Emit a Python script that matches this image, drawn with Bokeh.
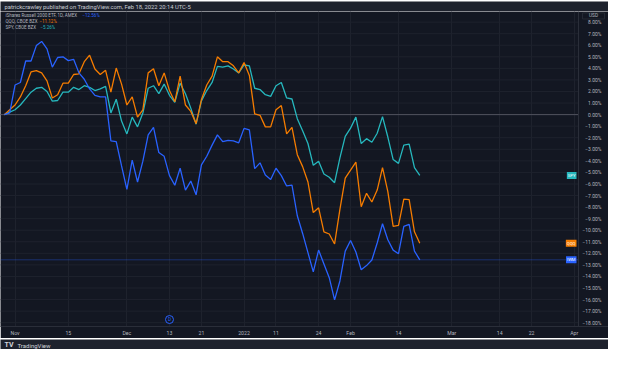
import pandas as pd
from bokeh.plotting import figure
from bokeh.models import FixedTicker, Label, ColumnDataSource
from bokeh.core.properties import value
from bokeh.layouts import column
from bokeh.embed import file_html
from bokeh.resources import INLINE

# ---------------- data ----------------
start_date = "2021-10-28"
end_date = "2022-04-01"
market_holidays = ["2021-11-25", "2021-12-24", "2022-01-17", "2022-02-21"]

iwm = [0.00, 0.14, 2.56, 2.78, 4.64, 4.64, 5.97, 6.33, 5.69, 4.11,
       4.94, 5.00, 4.67, 4.78, 3.61, 3.06, 2.22, 1.67, 1.53, 1.53,
       -2.28, -2.33, -4.44, -6.47, -3.94, -5.83, -4.03, -1.75, -1.11, -3.28,
       -3.61, -5.28, -6.11, -4.64, -6.53, -5.75, -6.94, -4.35, -3.60, -2.64,
       -1.75, -2.33, -2.22, -2.28, -2.44, -1.19, -1.33, -4.67, -4.17, -5.22,
       -5.61, -4.64, -5.28, -6.17, -6.10, -8.75, -10.28, -11.94, -13.61, -11.72,
       -12.92, -14.11, -16.03, -14.39, -11.81, -10.89, -11.89, -13.42, -13.06, -12.58,
       -11.11, -9.44, -10.83, -11.72, -12.03, -9.67, -9.50, -11.81, -12.56]

qqq = [0.00, 0.42, 0.83, 1.53, 2.50, 3.69, 3.81, 3.61, 2.92, 1.44,
       1.72, 2.72, 2.72, 3.47, 3.53, 4.58, 5.14, 3.94, 3.47, 3.83,
       1.94, 4.03, 2.64, 0.83, 1.53, -0.22, 0.42, 3.61, 3.97, 2.50,
       3.61, 2.08, 1.11, 3.33, 0.83, 0.28, -0.78, 1.30, 2.56, 3.33,
       5.00, 4.58, 4.58, 4.22, 3.61, 4.50, 3.39, 0.06, -0.06, -1.06,
       -1.06, 0.42, 0.78, -1.67, -1.11, -3.47, -4.50, -5.83, -8.47, -8.06,
       -10.14, -10.33, -11.19, -8.19, -5.50, -4.81, -4.11, -7.97, -6.81, -7.56,
       -6.53, -4.58, -6.67, -9.67, -9.58, -7.31, -7.36, -10.14, -11.12]

spy = [0.00, 0.22, 0.42, 0.83, 1.39, 1.94, 2.28, 2.36, 2.00, 1.17,
       1.22, 1.94, 1.94, 2.36, 2.17, 2.50, 2.36, 2.08, 2.22, 2.44,
       0.14, 1.33, -0.56, -1.67, -0.22, -1.06, 0.14, 2.28, 2.50, 1.81,
       2.64, 1.67, 1.06, 2.72, 1.81, 0.56, -0.83, 1.18, 2.08, 2.78,
       4.17, 4.11, 4.22, 3.94, 3.61, 4.31, 4.22, 2.28, 2.17, 1.72,
       1.58, 2.50, 2.78, 1.44, 1.35, -0.35, -1.39, -2.50, -4.39, -4.03,
       -5.14, -5.42, -5.89, -3.75, -1.89, -1.17, -0.22, -2.50, -2.08, -2.39,
       -1.61, -0.17, -1.94, -3.89, -4.22, -2.64, -2.56, -4.58, -5.26]

series_names = ["iShares Russell 2000 ETF, 1D, AMEX", "QQQ, CBOE BZX", "SPY, CBOE BZX"]
series_tags = ["IWM", "QQQ", "SPY"]
series_last = ["−12.56%", "−11.12%", "−5.26%"]
series_colors = ["#2962ff", "#f57c00", "#26b7bd"]

tick_dates = ["2021-11-01", "2021-11-15", "2021-12-01", "2021-12-13", "2021-12-21",
              "2022-01-03", "2022-01-11", "2022-01-24", "2022-02-01", "2022-02-14",
              "2022-03-01", "2022-03-14", "2022-03-22", "2022-04-01"]
tick_labels = ["Nov", "15", "Dec", "13", "21", "2022", "11", "24", "Feb", "14",
               "Mar", "14", "22", "Apr"]

y_ticks = list(range(-18, 9))
currency = "USD"
dividend_dates = ["2021-12-13"]

header_text = "patrickcrawley published on TradingView.com, Feb 18, 2022 20:14 UTC-5"

# ---------------- derived ----------------
days = pd.bdate_range(start_date, end_date, freq="C", holidays=market_holidays)
day_index = {d.strftime("%Y-%m-%d"): i for i, d in enumerate(days)}
xs = list(range(len(iwm)))
tick_idx = [day_index[d] for d in tick_dates]
y_tick_labels = [f"{v:.2f}%".replace("-", "−") for v in y_ticks]

# ---------------- layout ----------------
W = 608
H_HEAD = 11
H_FOOT = 11
H_MAIN = 327
AX_R = 30
AX_B = 11
BG = "#131722"
PANEL = "#1e222d"
TXT = "#b2b5be"
LINE = "#2a2e39"
FONT = "Roboto"

x0, x1 = -0.73, 107.8           # plotting pane
ppx = (W - AX_R) / (x1 - x0)
x_end = x1 + AX_R / ppx          # includes price-scale zone
y0, y1 = -18.33, 8.92
ppy = (H_MAIN - AX_B) / (y1 - y0)


def dx(px):
    return x0 + px / ppx


def dy(py):
    return y1 - py / ppy


# header
hdr = figure(width=W, height=H_HEAD, x_range=(0, W), y_range=(0, H_HEAD),
             output_backend="svg", toolbar_location=None, min_border=0,
             background_fill_color=PANEL, border_fill_color=PANEL,
             outline_line_color=None)
hdr.axis.visible = False
hdr.grid.visible = False
hdr.add_layout(Label(x=4, y=H_HEAD / 2, text=header_text, text_font=FONT,
                     text_font_size="5.8px", text_color="#c9ccd4",
                     text_baseline="middle"))

# main chart
p = figure(width=W, height=H_MAIN, x_range=(x0, x_end), y_range=(y0, y1),
           output_backend="svg", toolbar_location=None,
           min_border_left=0, min_border_top=0, min_border_right=0,
           min_border_bottom=AX_B, background_fill_color=BG, border_fill_color=BG,
           outline_line_color=None)
p.yaxis.visible = False
p.ygrid.visible = False

p.xaxis.ticker = FixedTicker(ticks=tick_idx)
p.xaxis.major_label_overrides = {i: t for i, t in zip(tick_idx, tick_labels)}
p.xaxis.axis_line_color = LINE
p.xaxis.major_tick_line_color = None
p.xaxis.minor_tick_line_color = None
p.xaxis.major_tick_out = 0
p.xaxis.major_tick_in = 0
p.xaxis.major_label_text_color = TXT
p.xaxis.major_label_text_font = FONT
p.xaxis.major_label_text_font_size = "5.2px"
p.xaxis.major_label_standoff = 3

p.xgrid.ticker = FixedTicker(ticks=tick_idx)
p.xgrid.grid_line_color = PANEL

# horizontal grid inside the pane only
grid_src = ColumnDataSource(dict(y=y_ticks, xa=[x0] * len(y_ticks), xb=[x1] * len(y_ticks)))
p.segment(x0="xa", y0="y", x1="xb", y1="y", source=grid_src, line_color=PANEL, line_width=1)

# zero line and IWM price line
p.segment(x0=[x0], y0=[0], x1=[x1], y1=[0], line_color="#50535e", line_width=1)
p.segment(x0=[x0], y0=[iwm[-1]], x1=[x1], y1=[iwm[-1]], line_color=series_colors[0],
          line_alpha=0.35, line_width=1)

# series
src = ColumnDataSource(dict(x=xs, iwm=iwm, qqq=qqq, spy=spy))
for col, c in zip(["spy", "qqq", "iwm"], [series_colors[2], series_colors[1], series_colors[0]]):
    p.line("x", col, source=src, line_color=c, line_width=1.3)

# price scale (right)
p.segment(x0=[x1], y0=[y0], x1=[x1], y1=[y1], line_color=LINE, line_width=1)
lab_src = ColumnDataSource(dict(y=y_ticks, t=y_tick_labels, x=[x1 + 23 / ppx] * len(y_ticks)))
p.text(x="x", y="y", text="t", source=lab_src, text_font=value(FONT),
       text_font_size=value("5px"), text_color=TXT, text_align="right",
       text_baseline="middle")
p.rect(x=[x1 + 15 / ppx], y=[dy(4.5)], width=22 / ppx, height=6 / ppy,
       fill_color=BG, line_color=LINE, line_width=0.8)
p.text(x=[x1 + 15 / ppx], y=[dy(4.5)], text=[currency], text_font=value(FONT),
       text_font_size=value("4.8px"), text_color=TXT, text_align="center",
       text_baseline="middle")

# legend (top-left)
legend_rows = [3.6, 9.9, 16.1]
value_px = [82, 39, 40]
for name, val, c, ry, vx in zip(series_names, series_last, series_colors, legend_rows, value_px):
    p.add_layout(Label(x=dx(5), y=dy(ry), text=name, text_font=FONT,
                       text_font_size="4.5px", text_color=TXT, text_baseline="middle"))
    p.add_layout(Label(x=dx(vx), y=dy(ry), text=val, text_font=FONT,
                       text_font_size="4.5px", text_color=c, text_baseline="middle"))

# last-value tags
for tag, last, c in zip(series_tags, [iwm[-1], qqq[-1], spy[-1]], series_colors):
    p.add_layout(Label(x=x1, y=last, x_offset=-2, text=tag, text_font=FONT,
                       text_font_size="4.2px", text_color="#ffffff", text_align="right",
                       text_baseline="middle", background_fill_color=c, padding=1))

# dividend marker
div_x = [day_index[d] for d in dividend_dates]
div_y = [dy(H_MAIN - AX_B - 7)] * len(div_x)
p.scatter(div_x, div_y, size=8, fill_color=BG, line_color="#2962ff", line_width=1)
p.text(x=div_x, y=div_y, text=["D"] * len(div_x), text_font=value(FONT),
       text_font_size=value("4.5px"), text_color="#2962ff", text_align="center",
       text_baseline="middle")

# footer
ftr = figure(width=W, height=H_FOOT, x_range=(0, W), y_range=(0, H_FOOT),
             output_backend="svg", toolbar_location=None, min_border=0,
             background_fill_color=PANEL, border_fill_color=PANEL,
             outline_line_color=None)
ftr.axis.visible = False
ftr.grid.visible = False
ftr.add_layout(Label(x=4, y=H_FOOT / 2, text="TV", text_font=FONT, text_font_size="7px",
                     text_font_style="bold", text_color="#d1d4dc", text_baseline="middle"))
ftr.add_layout(Label(x=17, y=H_FOOT / 2, text="TradingView", text_font=FONT,
                     text_font_size="6px", text_color="#d1d4dc", text_baseline="middle"))

layout = column(hdr, p, ftr, spacing=0)
open("out.html", "w").write(file_html(layout, INLINE))
